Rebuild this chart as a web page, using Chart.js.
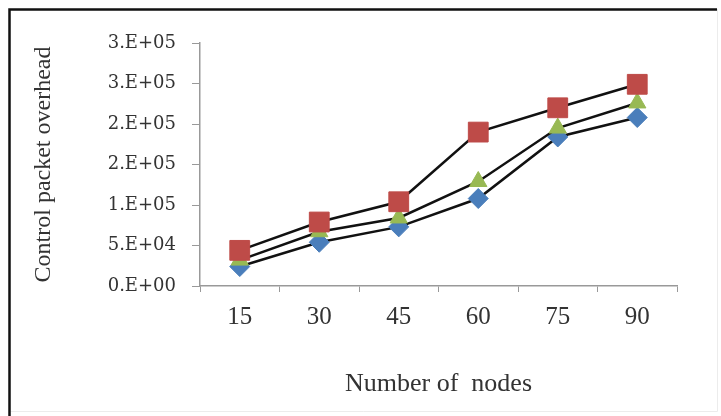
<!DOCTYPE html>
<html>
<head>
<meta charset="utf-8">
<script src="https://cdn.jsdelivr.net/npm/chart.js@4"></script>
<style>
  html, body { margin: 0; padding: 0; background: #fff; }
  #wrap { width: 721px; height: 416px; }
</style>
</head>
<body>
<div id="wrap"><canvas id="myChart" width="721" height="416"></canvas></div>
<script>
// data
const nodes = ['15', '30', '45', '60', '75', '90'];
const blueSeries = [24000, 54000, 73000, 108000, 184000, 208000];
const redSeries = [44000, 79000, 104000, 190000, 220000, 249000];
const greenSeries = [32000, 67000, 84000, 129000, 195000, 226000];
const yTicks = [0, 50000, 100000, 150000, 200000, 250000, 300000];

// Excel-like "0.E+00" labels
function sciLabel(v) {
  const s = Number(v).toExponential(0);
  const parts = s.split('e');
  const exp = parseInt(parts[1], 10);
  const sign = exp < 0 ? '-' : '+';
  return parts[0] + '.E' + sign + String(Math.abs(exp)).padStart(2, '0');
}

// frame round the figure
const framePlugin = {
  id: 'frame',
  beforeDraw(chart) {
    const c = chart.ctx;
    c.save();
    c.fillStyle = '#fff';
    c.fillRect(0, 0, chart.width, chart.height);
    c.strokeStyle = '#ececec';
    c.lineWidth = 1;
    c.beginPath();
    c.moveTo(10, 411.5);
    c.lineTo(717.5, 411.5);
    c.lineTo(717.5, 9);
    c.stroke();
    c.strokeStyle = '#111';
    c.lineWidth = 2.5;
    c.beginPath();
    c.moveTo(9.5, 416);
    c.lineTo(9.5, 9.5);
    c.lineTo(717, 9.5);
    c.stroke();
    c.restore();
  }
};

new Chart(document.getElementById('myChart'), {
  type: 'line',
  data: {
    labels: nodes,
    datasets: [
      {
        label: 'Series 1',
        data: blueSeries,
        borderColor: '#111',
        borderWidth: 2.5,
        pointStyle: 'rectRot',
        pointRadius: 10,
        pointBackgroundColor: '#4a7ebb',
        pointBorderColor: '#4a7ebb',
        pointBorderWidth: 1,
        tension: 0,
        order: 3
      },
      {
        label: 'Series 2',
        data: redSeries,
        borderColor: '#111',
        borderWidth: 2.5,
        pointStyle: 'rect',
        pointRadius: 14,
        pointBackgroundColor: '#be4b48',
        pointBorderColor: '#be4b48',
        pointBorderWidth: 1,
        tension: 0,
        order: 1
      },
      {
        label: 'Series 3',
        data: greenSeries,
        borderColor: '#111',
        borderWidth: 2.5,
        pointStyle: 'triangle',
        pointRadius: 10,
        pointBackgroundColor: '#98b954',
        pointBorderColor: '#98b954',
        pointBorderWidth: 1,
        tension: 0,
        order: 2
      }
    ]
  },
  options: {
    responsive: false,
    animation: false,
    layout: { padding: { left: 29, right: 44, top: 43, bottom: 16 } },
    plugins: {
      legend: { display: false },
      tooltip: { enabled: false }
    },
    scales: {
      x: {
        offset: true,
        grid: {
          offset: true,
          drawOnChartArea: false,
          drawTicks: true,
          tickLength: 6,
          color: '#999'
        },
        border: { color: '#999', width: 1.5 },
        ticks: { color: '#333', font: { family: 'Liberation Serif', size: 25 }, padding: 10 },
        title: {
          display: true,
          text: 'Number of  nodes',
          color: '#333',
          font: { family: 'Liberation Serif', size: 26 },
          padding: 0
        },
        afterFit(scale) { scale.height = 114; }
      },
      y: {
        min: 0,
        max: 300000,
        afterBuildTicks(scale) { scale.ticks = yTicks.map(v => ({ value: v })); },
        grid: {
          drawOnChartArea: false,
          drawTicks: true,
          tickLength: 8,
          color: '#999'
        },
        border: { color: '#999', width: 1.5 },
        ticks: { color: '#333', font: { family: 'DejaVu Serif', size: 18 }, padding: 16, callback: v => sciLabel(v) },
        title: {
          display: true,
          text: 'Control packet overhead',
          color: '#333',
          font: { family: 'Liberation Serif', size: 24 },
          padding: 0
        },
        afterFit(scale) { scale.width = 171; }
      }
    }
  },
  plugins: [framePlugin]
});
</script>
</body>
</html>
